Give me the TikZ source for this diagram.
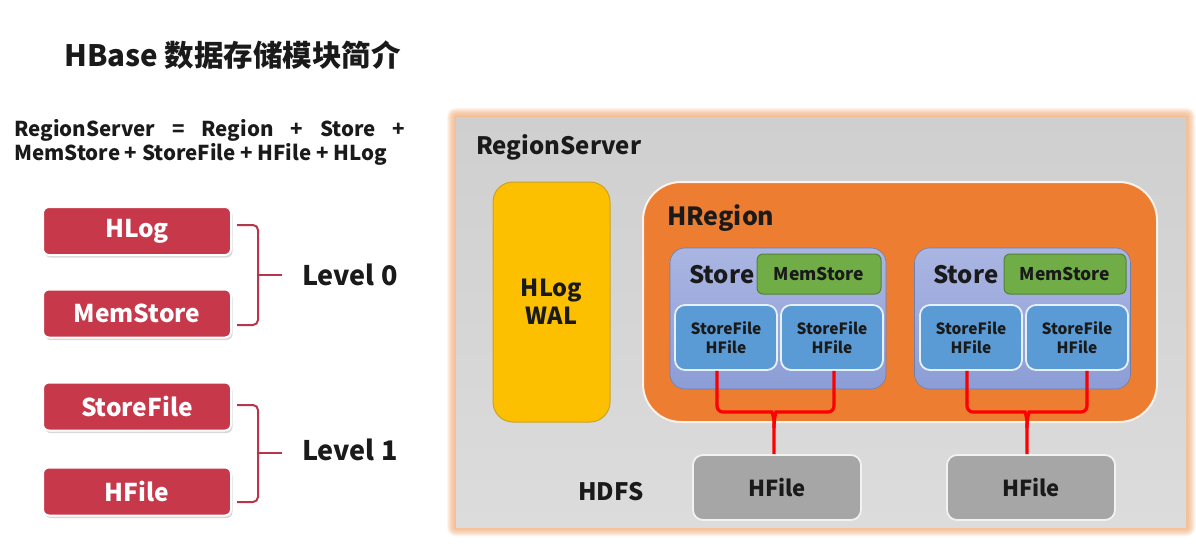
\documentclass[tikz,border=0pt]{standalone}
\usepackage{fontspec}
\setmainfont{Noto Sans CJK SC}
\usetikzlibrary{shadows,calc}
\definecolor{boxred}{HTML}{C6384A}
\definecolor{bracered}{HTML}{B8364B}
\definecolor{rsgraytop}{HTML}{CFCFCF}
\definecolor{rsgraybot}{HTML}{DCDCDC}
\definecolor{glow}{HTML}{F4A86E}
\definecolor{hlogyel}{HTML}{FDC000}
\definecolor{hlogedge}{HTML}{C9A227}
\definecolor{hregor}{HTML}{ED7D31}
\definecolor{storetop}{HTML}{AAB5E2}
\definecolor{storebot}{HTML}{8C9DD6}
\definecolor{memgreen}{HTML}{70AD47}
\definecolor{memedge}{HTML}{548235}
\definecolor{sfblue}{HTML}{5B9BD5}
\definecolor{hfgray}{HTML}{A6A6A6}
\definecolor{ink}{HTML}{1A1A1A}
\begin{document}
\begin{tikzpicture}[x=1pt,y=-1pt,
  redbox/.style={rectangle, rounded corners=6pt, fill=boxred, draw=white, line width=2pt,
    minimum width=188pt, minimum height=48pt, inner sep=0pt, text=white,
    font=\bfseries\fontsize{24.5}{24.5}\selectfont,
    drop shadow={shadow xshift=1.5pt, shadow yshift=-2.5pt, opacity=0.25, fill=black!60}},
  bracepath/.style={draw=bracered, line width=2pt, rounded corners=5pt},
  leveltext/.style={anchor=west, inner sep=0pt, text=ink, font=\bfseries\fontsize{27}{27}\selectfont},
  bigtext/.style={anchor=west, inner sep=0pt, text=ink, font=\bfseries\fontsize{24}{24}\selectfont},
  storebox/.style={rectangle, rounded corners=15pt, top color=storetop, bottom color=storebot,
    draw=storebot!80!black, line width=0.6pt, minimum width=216pt, minimum height=141pt, inner sep=0pt},
  membox/.style={rectangle, rounded corners=6pt, fill=memgreen, draw=memedge, line width=1pt,
    minimum width=124pt, minimum height=40pt, inner sep=0pt, text=ink,
    font=\bfseries\fontsize{17.5}{17.5}\selectfont},
  sfbox/.style={rectangle, rounded corners=10pt, fill=sfblue, draw=white!85!sfblue, line width=1.8pt,
    minimum width=102pt, minimum height=65pt, inner sep=0pt, text=ink, align=center,
    font=\bfseries\fontsize{15.5}{19}\selectfont},
  hfbox/.style={rectangle, rounded corners=10pt, fill=hfgray, draw=white!85!hfgray, line width=1.8pt,
    minimum width=168pt, minimum height=65pt, inner sep=0pt, text=ink,
    font=\bfseries\fontsize{22}{22}\selectfont},
  conn/.style={draw=red, line width=3.2pt, rounded corners=6pt}
]
\useasboundingbox (0,0) rectangle (1196,547);
\fill[white] (0,0) rectangle (1196,547);

% ---------- left part ----------
\node[anchor=west, inner sep=0pt, text=ink, font=\bfseries\fontsize{29.5}{29.5}\selectfont] (title) at (64,55) {HBase 数据存储模块简介};

\node[anchor=north west, inner sep=0pt, align=left, text=ink, font=\bfseries\fontsize{20.5}{24}\selectfont] (formula) at (14,119)
  {\makebox[391pt][s]{RegionServer = Region + Store +}\\MemStore + StoreFile + HFile + HLog};

\node[redbox] (lhlog) at (137,231) {HLog};
\node[redbox] (lmem) at (137,313.5) {MemStore};
\node[redbox] (lsf) at (137,406.5) {StoreFile};
\node[redbox] (lhf) at (137,491.5) {HFile};

\node[leveltext] (lv0) at (302,275) {Level 0};
\node[leveltext] (lv1) at (302,450) {Level 1};

\coordinate (b0t) at (237,225);
\coordinate (b0m) at (258,275);
\coordinate (b0b) at (237,325);
\coordinate (b0e) at (282,275);
\draw[bracepath] (b0t) -| (b0m) |- (b0b);
\draw[bracepath] (b0m) -- (b0e);

\coordinate (b1t) at (237,405);
\coordinate (b1m) at (258,453);
\coordinate (b1b) at (237,502);
\coordinate (b1e) at (282,453);
\draw[bracepath] (b1t) -| (b1m) |- (b1b);
\draw[bracepath] (b1m) -- (b1e);

% ---------- right part ----------
\foreach \d in {1,...,9} {
  \fill[glow, opacity=0.13, rounded corners=\d pt] ({456-\d},{117-\d}) rectangle ({1186+\d},{527+\d});
}
\node[rectangle, top color=rsgraytop, bottom color=rsgraybot, minimum width=730pt, minimum height=410pt,
  inner sep=0pt] (rs) at (821,322) {};
\node[bigtext] (rstext) at (476,147) {RegionServer};

\node[rectangle, rounded corners=20pt, fill=hlogyel, draw=hlogedge, line width=1pt,
  minimum width=117pt, minimum height=240pt, inner sep=0pt, align=center, text=ink,
  font=\bfseries\fontsize{23.5}{28}\selectfont] (wal) at (551.5,302) {HLog\\WAL};

\node[rectangle, rounded corners=38pt, fill=hregor, draw=white!90!hregor, line width=2pt,
  minimum width=514pt, minimum height=240pt, inner sep=0pt] (hregion) at (900,302) {};
\node[bigtext, font=\bfseries\fontsize{25}{25}\selectfont] (hrtext) at (667,218) {HRegion};

\node[storebox] (store1) at (778,318.5) {};
\node[bigtext] (st1text) at (689,275) {Store};
\node[membox] (mem1) at (819,274) {MemStore};
\node[sfbox] (sf1a) at (726,337.5) {StoreFile\\HFile};
\node[sfbox] (sf1b) at (832,337.5) {StoreFile\\HFile};

\node[storebox] (store2) at (1022.5,318.5) {};
\node[bigtext] (st2text) at (933,275) {Store};
\node[membox, minimum width=122pt] (mem2) at (1065,274) {MemStore};
\node[sfbox] (sf2a) at (971,337.5) {StoreFile\\HFile};
\node[sfbox] (sf2b) at (1077,337.5) {StoreFile\\HFile};

\node[bigtext] (hdfs) at (578,492) {HDFS};
\node[hfbox] (hf1) at (777,487.5) {HFile};
\node[hfbox] (hf2) at (1031,487.5) {HFile};

% red connectors
\draw[conn] ([xshift=-9pt]sf1a.south) |- (766,412) .. controls (772,412) and (774,418) .. (774,428) -- ([xshift=-3pt]hf1.north);
\draw[conn] ([xshift=2pt]sf1b.south) |- (782,412) .. controls (776,412) and (774,418) .. (774,428);
\draw[conn] ([xshift=-4pt]sf2a.south) |- (1019,412) .. controls (1025,412) and (1027,418) .. (1027,428) -- ([xshift=-4pt]hf2.north);
\draw[conn] ([xshift=10pt]sf2b.south) |- (1035,412) .. controls (1029,412) and (1027,418) .. (1027,428);
\end{tikzpicture}
\end{document}
